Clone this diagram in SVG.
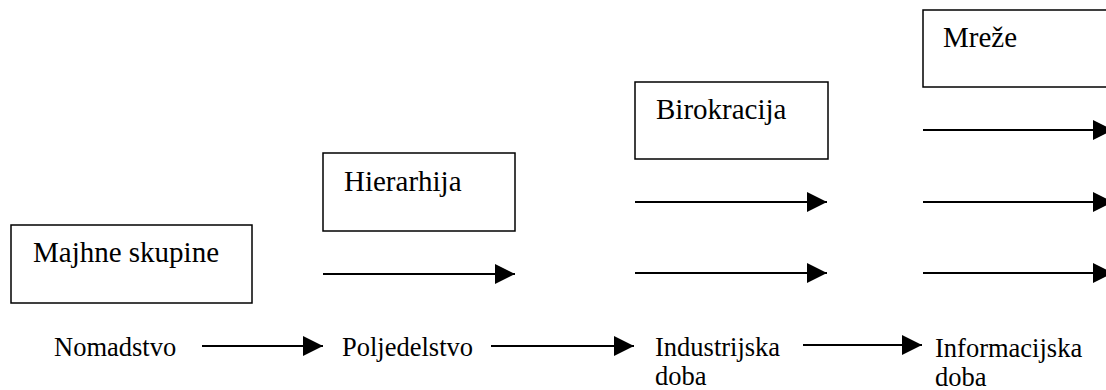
<svg xmlns="http://www.w3.org/2000/svg" width="1106" height="390" viewBox="0 0 1106 390">
  <style>
    .box { fill: #ffffff; stroke: #000000; stroke-width: 1.5; }
    .arrow { stroke: #000000; stroke-width: 2; fill: none; marker-end: url(#head); }
  </style>
  <defs>
    <marker id="head" markerUnits="userSpaceOnUse" markerWidth="20" markerHeight="20" refX="20" refY="10" orient="auto" overflow="visible">
      <path d="M0,0 L20,10 L0,20 Z" fill="#000000"/>
    </marker>
  </defs>
  <rect width="1106" height="390" fill="#ffffff"/>

  <!-- organisational forms -->
  <g id="majhne-skupine">
    <rect class="box" x="11" y="225" width="241" height="78"/>
    <text font-family="Liberation Serif, serif" font-size="29" x="33" y="262">Majhne skupine</text>
  </g>
  <g id="hierarhija">
    <rect class="box" x="323" y="153" width="192" height="78"/>
    <text font-family="Liberation Serif, serif" font-size="29" x="344" y="191">Hierarhija</text>
  </g>
  <g id="birokracija">
    <rect class="box" x="635" y="82" width="193" height="77"/>
    <text font-family="Liberation Serif, serif" font-size="29" x="656" y="119">Birokracija</text>
  </g>
  <g id="mreze">
    <rect class="box" x="923" y="10" width="190" height="77"/>
    <text font-family="Liberation Serif, serif" font-size="29" x="943" y="47">Mreže</text>
  </g>

  <!-- eras -->
  <g id="nomadstvo">
    <text font-family="Liberation Serif, serif" font-size="26.5" x="54" y="356">Nomadstvo</text>
  </g>
  <g id="poljedelstvo">
    <text font-family="Liberation Serif, serif" font-size="26.5" x="342" y="356">Poljedelstvo</text>
  </g>
  <g id="industrijska-doba">
    <text font-family="Liberation Serif, serif" font-size="26.5" x="655" y="356">Industrijska</text>
    <text font-family="Liberation Serif, serif" font-size="26.5" x="655" y="385">doba</text>
  </g>
  <g id="informacijska-doba">
    <text font-family="Liberation Serif, serif" font-size="26.5" x="935" y="357">Informacijska</text>
    <text font-family="Liberation Serif, serif" font-size="26.5" x="935" y="386">doba</text>
  </g>

  <g id="connectors">
    <!-- timeline -->
    <line class="arrow" x1="202" y1="346" x2="323" y2="346"/>
    <line class="arrow" x1="491" y1="346" x2="634" y2="346"/>
    <line class="arrow" x1="803" y1="345" x2="922" y2="345"/>
    <!-- layered forms -->
    <line class="arrow" x1="323" y1="274" x2="515" y2="274"/>
    <line class="arrow" x1="635" y1="202" x2="827" y2="202"/>
    <line class="arrow" x1="635" y1="273" x2="827" y2="273"/>
    <line class="arrow" x1="923" y1="130" x2="1113" y2="130"/>
    <line class="arrow" x1="923" y1="202" x2="1113" y2="202"/>
    <line class="arrow" x1="923" y1="273" x2="1113" y2="273"/>
  </g>
</svg>
